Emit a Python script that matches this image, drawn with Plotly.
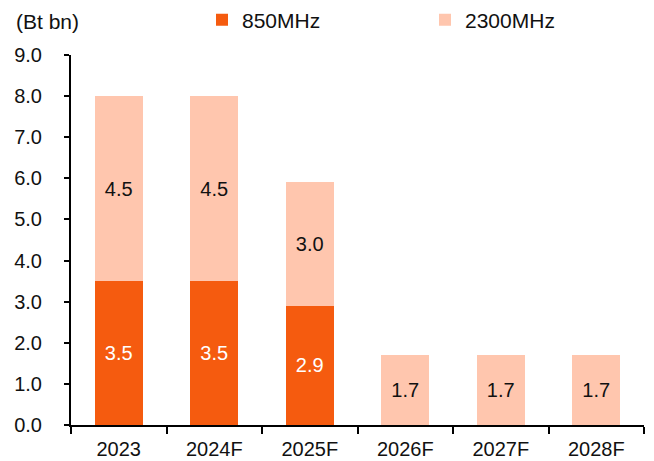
import plotly.graph_objects as go

categories = ["2023", "2024F", "2025F", "2026F", "2027F", "2028F"]
mhz850 = [3.5, 3.5, 2.9, 0.0, 0.0, 0.0]
mhz2300 = [4.5, 4.5, 3.0, 1.7, 1.7, 1.7]
y_ticks = [0, 1, 2, 3, 4, 5, 6, 7, 8, 9]

ORANGE = "#F55B0F"
PEACH = "#FFC6AE"
FONT = "Liberation Sans, Arial, sans-serif"

def labels(vals):
    return [f"{v:.1f}" if v > 0 else "" for v in vals]

fig = go.Figure()
fig.add_trace(go.Bar(
    x=categories, y=mhz850, name="850MHz", marker=dict(color=ORANGE, line=dict(width=0)),
    text=labels(mhz850), textposition="inside", insidetextanchor="middle",
    textfont=dict(color="white", size=20, family=FONT), textangle=0,
))
fig.add_trace(go.Bar(
    x=categories, y=mhz2300, name="2300MHz", marker=dict(color=PEACH, line=dict(width=0)),
    text=labels(mhz2300), textposition="inside", insidetextanchor="middle",
    textfont=dict(color="#111111", size=20, family=FONT), textangle=0,
))

# page body adds ~8px offset; compensate
OFF = 8
W, H = 654 - OFF, 461 - OFF
L, T = 71 - OFF, 55 - OFF
R = W - (644 - OFF)
B = H - (425 - OFF)
PW, PH = W - L - R, H - T - B

fig.update_layout(
    barmode="stack",
    bargap=0.5,
    width=W, height=H,
    margin=dict(l=L, r=R, t=T, b=B, autoexpand=False),
    paper_bgcolor="white", plot_bgcolor="white",
    font=dict(family=FONT, size=20, color="#111111"),
    uniformtext=dict(minsize=20, mode="show"),
    legend=dict(
        orientation="h", x=(202 - OFF) / W, y=1 - (20 - OFF) / H,
        xanchor="left", yanchor="middle",
        xref="container", yref="container",
        entrywidth=178, entrywidthmode="pixels", itemwidth=30,
        font=dict(size=21, family=FONT), bgcolor="rgba(0,0,0,0)",
        traceorder="normal",
    ),
    showlegend=True,
)

fig.update_xaxes(
    showline=True, linecolor="black", linewidth=2,
    ticks="outside", ticklen=7, tickwidth=2, tickcolor="black",
    tickson="boundaries", showgrid=False, ticklabelstandoff=5,
    tickfont=dict(size=20, family=FONT, color="#111111"),
)
fig.update_yaxes(
    range=[0, 9], tickvals=y_ticks, tickformat=".1f",
    showline=True, linecolor="black", linewidth=2,
    ticks="outside", ticklen=5, tickwidth=2, tickcolor="black",
    showgrid=False, zeroline=False, ticklabelstandoff=18,
    tickfont=dict(size=20, family=FONT, color="#111111"),
)

fig.add_annotation(
    text="(Bt bn)", xref="paper", yref="paper",
    x=(14 - OFF - L) / PW, y=(H - B - (8 - OFF)) / PH,
    xanchor="left", yanchor="top", showarrow=False,
    font=dict(size=21, family=FONT, color="#111111"),
)

fig.write_html("out.html")
